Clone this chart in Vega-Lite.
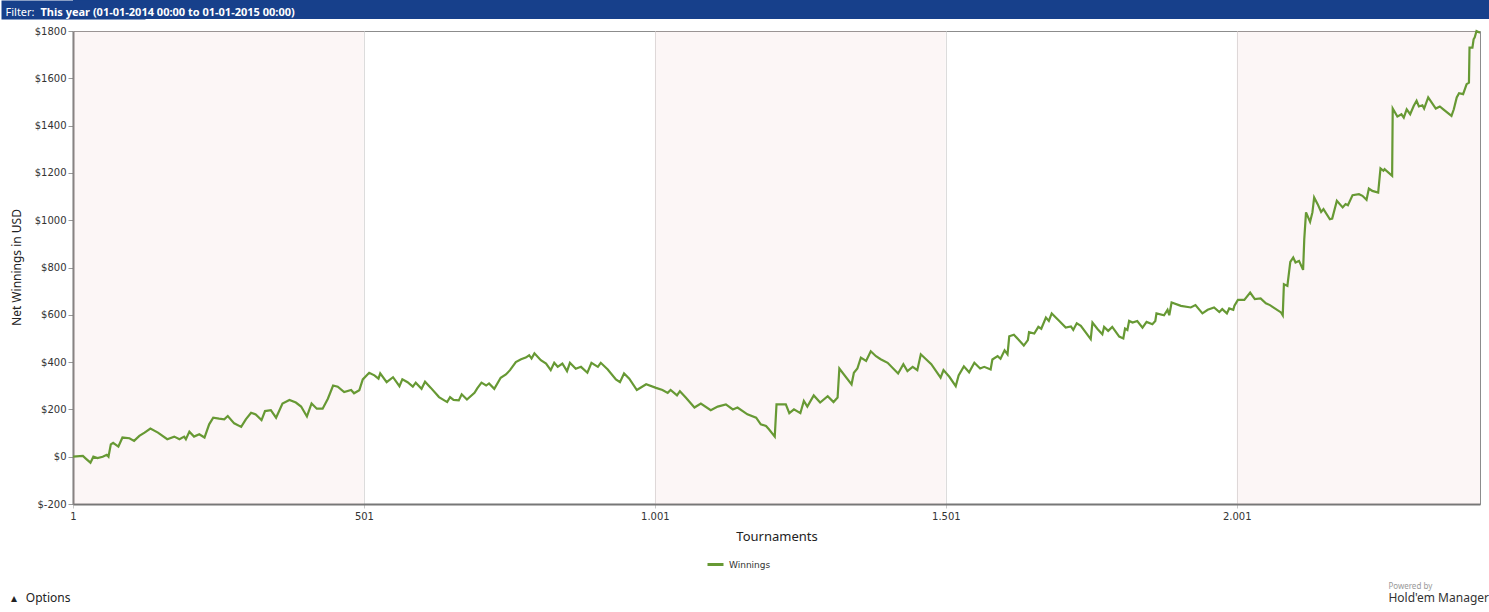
{
  "$schema": "https://vega.github.io/schema/vega-lite/v6.json",
  "padding": 0,
  "background": "white",
  "spacing": 6,
  "config": {
    "font": "DejaVu Sans",
    "view": {"stroke": null}
  },
  "title": {
    "text": "▴\u00a0\u00a0\u00a0Options",
    "orient": "bottom",
    "anchor": "start",
    "frame": "bounds",
    "font": "Noto Sans",
    "fontSize": 12,
    "fontWeight": "normal",
    "color": "#222",
    "dx": 10,
    "offset": -12
  },
  "datasets": {
    "winnings": [
      {"tournament": 1, "net": 0}, {"tournament": 18, "net": 3}, {"tournament": 23, "net": -8}, {"tournament": 31, "net": -25},
      {"tournament": 36, "net": 0}, {"tournament": 43, "net": -6}, {"tournament": 52, "net": 0}, {"tournament": 59, "net": 8},
      {"tournament": 62, "net": 0}, {"tournament": 66, "net": 52}, {"tournament": 70, "net": 59}, {"tournament": 79, "net": 43},
      {"tournament": 86, "net": 81}, {"tournament": 98, "net": 78}, {"tournament": 106, "net": 67}, {"tournament": 115, "net": 88},
      {"tournament": 124, "net": 102}, {"tournament": 134, "net": 119}, {"tournament": 147, "net": 102}, {"tournament": 163, "net": 74},
      {"tournament": 175, "net": 85}, {"tournament": 184, "net": 74}, {"tournament": 192, "net": 85}, {"tournament": 195, "net": 74},
      {"tournament": 201, "net": 106}, {"tournament": 209, "net": 85}, {"tournament": 218, "net": 95}, {"tournament": 227, "net": 81},
      {"tournament": 235, "net": 137}, {"tournament": 242, "net": 165}, {"tournament": 252, "net": 161}, {"tournament": 261, "net": 158},
      {"tournament": 267, "net": 172}, {"tournament": 278, "net": 141}, {"tournament": 290, "net": 126}, {"tournament": 298, "net": 158},
      {"tournament": 307, "net": 186}, {"tournament": 315, "net": 179}, {"tournament": 325, "net": 155}, {"tournament": 331, "net": 193},
      {"tournament": 341, "net": 197}, {"tournament": 350, "net": 165}, {"tournament": 361, "net": 225}, {"tournament": 373, "net": 240},
      {"tournament": 384, "net": 229}, {"tournament": 393, "net": 212}, {"tournament": 403, "net": 170}, {"tournament": 411, "net": 225},
      {"tournament": 420, "net": 203}, {"tournament": 430, "net": 203}, {"tournament": 439, "net": 245}, {"tournament": 448, "net": 301},
      {"tournament": 456, "net": 296}, {"tournament": 467, "net": 273}, {"tournament": 479, "net": 282}, {"tournament": 484, "net": 268},
      {"tournament": 493, "net": 281}, {"tournament": 499, "net": 327}, {"tournament": 510, "net": 355}, {"tournament": 519, "net": 344},
      {"tournament": 526, "net": 330}, {"tournament": 529, "net": 352}, {"tournament": 540, "net": 315}, {"tournament": 551, "net": 336},
      {"tournament": 562, "net": 298}, {"tournament": 567, "net": 327}, {"tournament": 576, "net": 315}, {"tournament": 585, "net": 296},
      {"tournament": 590, "net": 313}, {"tournament": 600, "net": 287}, {"tournament": 606, "net": 317}, {"tournament": 616, "net": 291},
      {"tournament": 630, "net": 252}, {"tournament": 644, "net": 231}, {"tournament": 649, "net": 252}, {"tournament": 655, "net": 240},
      {"tournament": 664, "net": 238}, {"tournament": 669, "net": 264}, {"tournament": 678, "net": 242}, {"tournament": 691, "net": 270},
      {"tournament": 696, "net": 290}, {"tournament": 703, "net": 313}, {"tournament": 711, "net": 301}, {"tournament": 716, "net": 310},
      {"tournament": 725, "net": 287}, {"tournament": 736, "net": 334}, {"tournament": 745, "net": 348}, {"tournament": 752, "net": 366},
      {"tournament": 762, "net": 400}, {"tournament": 771, "net": 412}, {"tournament": 779, "net": 419}, {"tournament": 785, "net": 429},
      {"tournament": 789, "net": 415}, {"tournament": 794, "net": 437}, {"tournament": 805, "net": 408}, {"tournament": 814, "net": 394},
      {"tournament": 822, "net": 366}, {"tournament": 828, "net": 397}, {"tournament": 834, "net": 380}, {"tournament": 842, "net": 394},
      {"tournament": 850, "net": 362}, {"tournament": 855, "net": 397}, {"tournament": 865, "net": 372}, {"tournament": 874, "net": 380},
      {"tournament": 885, "net": 355}, {"tournament": 892, "net": 397}, {"tournament": 903, "net": 380}, {"tournament": 908, "net": 397},
      {"tournament": 920, "net": 369}, {"tournament": 934, "net": 327}, {"tournament": 941, "net": 315}, {"tournament": 948, "net": 352},
      {"tournament": 957, "net": 330}, {"tournament": 970, "net": 282}, {"tournament": 986, "net": 306}, {"tournament": 1003, "net": 291},
      {"tournament": 1014, "net": 282}, {"tournament": 1023, "net": 270}, {"tournament": 1028, "net": 282}, {"tournament": 1039, "net": 259},
      {"tournament": 1044, "net": 277}, {"tournament": 1054, "net": 250}, {"tournament": 1069, "net": 208}, {"tournament": 1080, "net": 225},
      {"tournament": 1097, "net": 197}, {"tournament": 1109, "net": 212}, {"tournament": 1123, "net": 221}, {"tournament": 1135, "net": 200},
      {"tournament": 1143, "net": 208}, {"tournament": 1160, "net": 179}, {"tournament": 1175, "net": 165}, {"tournament": 1183, "net": 137},
      {"tournament": 1192, "net": 130}, {"tournament": 1197, "net": 116}, {"tournament": 1207, "net": 85}, {"tournament": 1210, "net": 221},
      {"tournament": 1226, "net": 221}, {"tournament": 1232, "net": 184}, {"tournament": 1240, "net": 200}, {"tournament": 1251, "net": 184},
      {"tournament": 1257, "net": 236}, {"tournament": 1263, "net": 212}, {"tournament": 1274, "net": 259}, {"tournament": 1285, "net": 229},
      {"tournament": 1298, "net": 256}, {"tournament": 1308, "net": 231}, {"tournament": 1315, "net": 250}, {"tournament": 1318, "net": 373},
      {"tournament": 1339, "net": 306}, {"tournament": 1343, "net": 355}, {"tournament": 1349, "net": 373}, {"tournament": 1355, "net": 419},
      {"tournament": 1364, "net": 405}, {"tournament": 1372, "net": 446}, {"tournament": 1381, "net": 425}, {"tournament": 1389, "net": 412},
      {"tournament": 1401, "net": 397}, {"tournament": 1419, "net": 352}, {"tournament": 1428, "net": 391}, {"tournament": 1435, "net": 362},
      {"tournament": 1444, "net": 380}, {"tournament": 1452, "net": 366}, {"tournament": 1458, "net": 433}, {"tournament": 1476, "net": 391},
      {"tournament": 1492, "net": 334}, {"tournament": 1497, "net": 366}, {"tournament": 1507, "net": 338}, {"tournament": 1518, "net": 298},
      {"tournament": 1523, "net": 344}, {"tournament": 1532, "net": 382}, {"tournament": 1541, "net": 357}, {"tournament": 1550, "net": 397},
      {"tournament": 1560, "net": 373}, {"tournament": 1567, "net": 380}, {"tournament": 1578, "net": 369}, {"tournament": 1581, "net": 411},
      {"tournament": 1590, "net": 425}, {"tournament": 1595, "net": 414}, {"tournament": 1602, "net": 450}, {"tournament": 1607, "net": 433},
      {"tournament": 1610, "net": 509}, {"tournament": 1618, "net": 516}, {"tournament": 1635, "net": 470}, {"tournament": 1642, "net": 493},
      {"tournament": 1644, "net": 527}, {"tournament": 1653, "net": 521}, {"tournament": 1660, "net": 549}, {"tournament": 1665, "net": 541},
      {"tournament": 1673, "net": 588}, {"tournament": 1678, "net": 574}, {"tournament": 1683, "net": 606}, {"tournament": 1696, "net": 574},
      {"tournament": 1707, "net": 546}, {"tournament": 1716, "net": 551}, {"tournament": 1720, "net": 536}, {"tournament": 1726, "net": 564},
      {"tournament": 1733, "net": 553}, {"tournament": 1750, "net": 497}, {"tournament": 1753, "net": 567}, {"tournament": 1762, "net": 539},
      {"tournament": 1770, "net": 518}, {"tournament": 1773, "net": 549}, {"tournament": 1780, "net": 532}, {"tournament": 1787, "net": 549},
      {"tournament": 1799, "net": 508}, {"tournament": 1806, "net": 500}, {"tournament": 1809, "net": 542}, {"tournament": 1813, "net": 536},
      {"tournament": 1816, "net": 574}, {"tournament": 1822, "net": 567}, {"tournament": 1830, "net": 574}, {"tournament": 1839, "net": 546},
      {"tournament": 1846, "net": 570}, {"tournament": 1856, "net": 560}, {"tournament": 1861, "net": 574}, {"tournament": 1863, "net": 606},
      {"tournament": 1876, "net": 598}, {"tournament": 1882, "net": 621}, {"tournament": 1885, "net": 598}, {"tournament": 1889, "net": 652},
      {"tournament": 1905, "net": 638}, {"tournament": 1922, "net": 631}, {"tournament": 1930, "net": 641}, {"tournament": 1942, "net": 606},
      {"tournament": 1951, "net": 621}, {"tournament": 1962, "net": 631}, {"tournament": 1971, "net": 612}, {"tournament": 1976, "net": 624},
      {"tournament": 1984, "net": 606}, {"tournament": 1988, "net": 627}, {"tournament": 1995, "net": 621}, {"tournament": 1997, "net": 638},
      {"tournament": 2003, "net": 663}, {"tournament": 2014, "net": 663}, {"tournament": 2024, "net": 694}, {"tournament": 2032, "net": 666},
      {"tournament": 2042, "net": 669}, {"tournament": 2051, "net": 649}, {"tournament": 2058, "net": 641}, {"tournament": 2077, "net": 610},
      {"tournament": 2080, "net": 598}, {"tournament": 2082, "net": 729}, {"tournament": 2088, "net": 722}, {"tournament": 2089, "net": 743},
      {"tournament": 2093, "net": 824}, {"tournament": 2098, "net": 842}, {"tournament": 2102, "net": 821}, {"tournament": 2108, "net": 828},
      {"tournament": 2115, "net": 790}, {"tournament": 2117, "net": 920}, {"tournament": 2120, "net": 1033}, {"tournament": 2127, "net": 993},
      {"tournament": 2131, "net": 1033}, {"tournament": 2134, "net": 1096}, {"tournament": 2140, "net": 1068}, {"tournament": 2146, "net": 1035},
      {"tournament": 2150, "net": 1047}, {"tournament": 2161, "net": 1004}, {"tournament": 2165, "net": 1007}, {"tournament": 2173, "net": 1082},
      {"tournament": 2183, "net": 1054}, {"tournament": 2188, "net": 1068}, {"tournament": 2192, "net": 1063}, {"tournament": 2200, "net": 1106},
      {"tournament": 2211, "net": 1110}, {"tournament": 2217, "net": 1103}, {"tournament": 2224, "net": 1086}, {"tournament": 2228, "net": 1134},
      {"tournament": 2234, "net": 1124}, {"tournament": 2244, "net": 1117}, {"tournament": 2248, "net": 1219}, {"tournament": 2253, "net": 1209},
      {"tournament": 2255, "net": 1216}, {"tournament": 2268, "net": 1188}, {"tournament": 2269, "net": 1472}, {"tournament": 2277, "net": 1438},
      {"tournament": 2284, "net": 1448}, {"tournament": 2288, "net": 1434}, {"tournament": 2293, "net": 1469}, {"tournament": 2299, "net": 1448},
      {"tournament": 2305, "net": 1483}, {"tournament": 2310, "net": 1505}, {"tournament": 2314, "net": 1481}, {"tournament": 2320, "net": 1486},
      {"tournament": 2323, "net": 1472}, {"tournament": 2330, "net": 1519}, {"tournament": 2343, "net": 1472}, {"tournament": 2350, "net": 1481},
      {"tournament": 2356, "net": 1469}, {"tournament": 2370, "net": 1441}, {"tournament": 2374, "net": 1469}, {"tournament": 2379, "net": 1519},
      {"tournament": 2383, "net": 1537}, {"tournament": 2390, "net": 1533}, {"tournament": 2396, "net": 1575}, {"tournament": 2400, "net": 1582},
      {"tournament": 2401, "net": 1730}, {"tournament": 2406, "net": 1730}, {"tournament": 2408, "net": 1765}, {"tournament": 2410, "net": 1773},
      {"tournament": 2413, "net": 1800}, {"tournament": 2419, "net": 1793}
    ]
  },
  "vconcat": [
    {
      "width": 1417,
      "height": 19,
      "view": {"fill": "#17408b", "stroke": null},
      "data": {"values": []},
      "mark": "point",
      "encoding": {
        "x": {
          "datum": 0,
          "type": "quantitative",
          "scale": {"domain": [0, 1]},
          "axis": {
            "zindex": 2,
            "domain": false,
            "ticks": false,
            "labels": false,
            "grid": false,
            "title": "This year (01-01-2014 00:00 to 01-01-2015 00:00)",
            "titleFont": "Noto Sans",
            "titleFontSize": 11,
            "titleFontWeight": "bold",
            "titleColor": "white",
            "titleAlign": "left",
            "titleBaseline": "alphabetic",
            "titleX": -33,
            "titleY": -4
          }
        },
        "y": {
          "datum": 0,
          "type": "quantitative",
          "scale": {"domain": [0, 1]},
          "axis": {
            "zindex": 1,
            "domain": true,
            "domainColor": "#17408b",
            "domainWidth": 144,
            "ticks": false,
            "labels": false,
            "grid": false,
            "minExtent": 72,
            "title": "Filter:",
            "titleFont": "Noto Sans",
            "titleFontSize": 11,
            "titleFontWeight": "normal",
            "titleColor": "white",
            "titleAngle": 0,
            "titleAlign": "left",
            "titleBaseline": "alphabetic",
            "titleX": -68,
            "titleY": 15
          }
        }
      }
    },
    {
      "width": 1407,
      "height": 473,
      "view": {"fill": "white", "stroke": "#8c8c8c"},
      "title": {
        "text": "Powered by",
        "subtitle": "Hold'em Manager",
        "orient": "bottom",
        "anchor": "end",
        "align": "left",
        "frame": "bounds",
        "font": "Noto Sans",
        "fontSize": 8,
        "fontWeight": "normal",
        "color": "#999",
        "subtitleFont": "Noto Sans",
        "subtitleFontSize": 12,
        "subtitleColor": "#333",
        "subtitlePadding": 2,
        "dx": -96,
        "offset": 40
      },
      "layer": [
        {
          "data": {"values": [
            {"from": 1, "to": 501},
            {"from": 1001, "to": 1501},
            {"from": 2001, "to": 2419}
          ]},
          "mark": {"type": "rect", "color": "#e8c4c4", "opacity": 0.15},
          "encoding": {
            "x": {"field": "from", "type": "quantitative"},
            "x2": {"field": "to"}
          }
        },
        {
          "mark": {"type": "rule", "color": "#222", "strokeWidth": 2},
          "encoding": {
            "y": {"datum": 0, "type": "quantitative"}
          }
        },
        {
          "data": {"name": "winnings"},
          "mark": {"type": "line", "strokeWidth": 2.2},
          "encoding": {
            "x": {
              "field": "tournament",
              "type": "quantitative",
              "scale": {"domain": [1, 2419], "nice": false, "zero": false},
              "axis": {
                "values": [1, 501, 1001, 1501, 2001],
                "labelExpr": "replace(format(datum.value, ','), ',', '.')",
                "title": "Tournaments",
                "titleFont": "Noto Sans",
                "titleFontSize": 13,
                "titleFontWeight": "normal",
                "titleColor": "#222",
                "titlePadding": 9,
                "labelFontSize": 10,
                "labelColor": "#333",
                "labelPadding": 3,
                "labelFlush": false,
                "tickSize": 4,
                "tickColor": "#c8c8c8",
                "domainColor": "#777",
                "domainWidth": 2,
                "gridColor": "#dcdcdc"
              }
            },
            "y": {
              "field": "net",
              "type": "quantitative",
              "scale": {"domain": [-200, 1800], "nice": false, "zero": false},
              "axis": {
                "values": [-200, 0, 200, 400, 600, 800, 1000, 1200, 1400, 1600, 1800],
                "labelExpr": "'$' + datum.value",
                "title": "Net Winnings in USD",
                "titleFont": "Noto Sans",
                "titleFontSize": 12,
                "titleFontWeight": "normal",
                "titleColor": "#222",
                "titleX": -50,
                "titleY": 236,
                "minExtent": 72,
                "labelFontSize": 10,
                "labelColor": "#333",
                "labelPadding": 2,
                "tickSize": 5,
                "tickColor": "#999",
                "domainColor": "#777",
                "domainWidth": 2,
                "gridColor": "#dcdcdc"
              }
            },
            "color": {
              "datum": "Winnings",
              "type": "nominal",
              "scale": {"range": ["#679934"]},
              "legend": {
                "title": null,
                "orient": "none",
                "legendX": 633,
                "legendY": 555,
                "direction": "horizontal",
                "symbolType": "stroke",
                "symbolStrokeWidth": 3,
                "symbolSize": 256,
                "labelFontSize": 9,
                "labelColor": "#333"
              }
            }
          }
        }
      ]
    }
  ]
}
